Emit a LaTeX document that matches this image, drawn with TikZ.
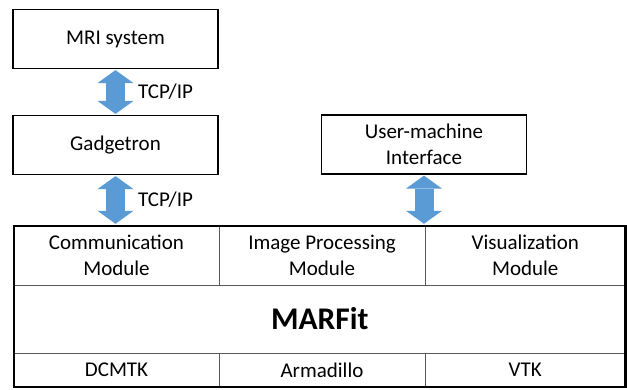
\documentclass[tikz,border=0pt]{standalone}
\usepackage{fontspec}
\setmainfont{Carlito}
\usepackage{tikz}
\usetikzlibrary{arrows.meta}
\definecolor{arrowBlue}{HTML}{5B9BD5}
\definecolor{gridGray}{HTML}{595959}
\newcommand{\blockFont}{\fontsize{21}{26}\selectfont}
\newcommand{\titleFont}{\fontsize{31.5}{36}\selectfont\bfseries}

\begin{document}
\begin{tikzpicture}[x=1pt, y=-1pt, every node/.style={font=\blockFont, align=center, inner sep=0pt},
	block/.style={draw, line width=1.2pt, minimum width=205pt, minimum height=59pt},
	cell/.style={draw=gridGray, line width=0.9pt, minimum width=#1},
	link/.style={draw=arrowBlue, line width=19pt, shorten <=1pt, shorten >=1pt,
		{Triangle[length=13pt, width=36pt, line width=0pt]}-{Triangle[length=13pt, width=36pt, line width=0pt]}}]
	\useasboundingbox (0,0) rectangle (627,389);
	% top blocks
	\node[block] (mri) at (115.5,39) {MRI system};
	\node[block] (gadget) at (115.5,145) {Gadgetron};
	\node[block] (umi) at (424,144.5) {User-machine\\Interface};
	% MARFit table
	\node[cell=205pt, minimum height=59pt] (comm) at (116.5,255.5) {Communication\\Module};
	\node[cell=206pt, minimum height=59pt] (improc) at (322,255.5) {Image Processing\\Module};
	\node[cell=200.5pt, minimum height=59pt] (vis) at (525.25,255.5) {Visualization\\Module};
	\node[cell=611.5pt, minimum height=68pt, font=\titleFont] (marfit) at (319.75,319) {MARFit};
	\node[cell=205pt, minimum height=34pt] (dcmtk) at (116.5,370) {DCMTK};
	\node[cell=206pt, minimum height=34pt] (arma) at (322,370) {Armadillo};
	\node[cell=200.5pt, minimum height=34pt] (vtk) at (525.25,370) {VTK};
	\node[draw, line width=2.4pt, minimum width=611.5pt, minimum height=161pt] (frame) at (319.75,306.5) {};
	% links
	\draw[link] (mri.south) -- node[right=13pt] {TCP/IP} (gadget.north);
	\draw[link] (gadget.south) -- node[right=13pt] {TCP/IP} (gadget.south |- frame.north);
	\draw[link] (umi.south) -- (umi.south |- frame.north);
\end{tikzpicture}
\end{document}
